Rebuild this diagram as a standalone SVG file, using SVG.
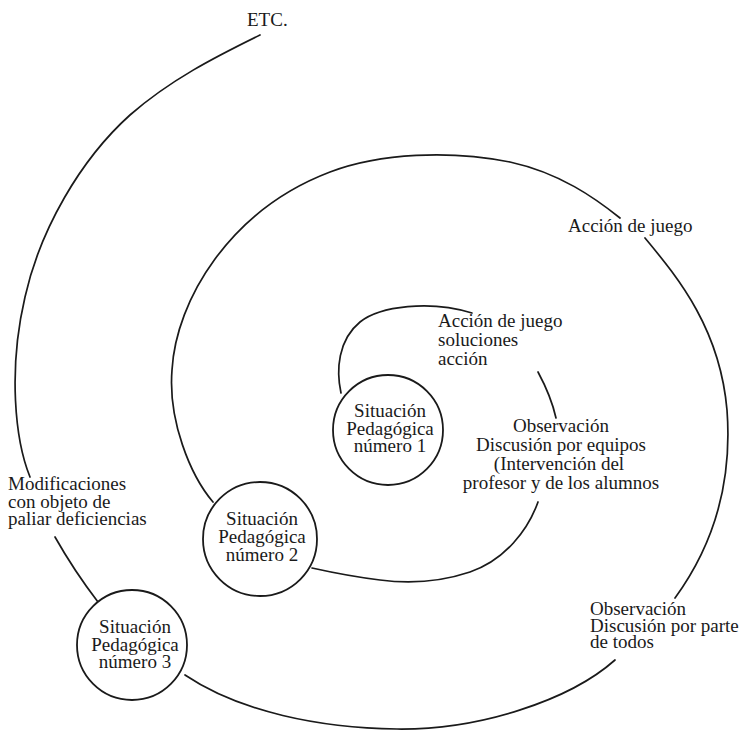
<svg xmlns="http://www.w3.org/2000/svg" width="747" height="731" viewBox="0 0 747 731">
<style>
  .ln{fill:none;stroke:#1a1a1a;stroke-width:1.7;stroke-linecap:round}
  .nd{fill:#fff;stroke:#1a1a1a;stroke-width:1.8}
  text{font-family:"Liberation Serif","Times New Roman",serif;font-size:19px;fill:#1a1a1a}
  .c{text-anchor:middle}
</style>
<rect width="747" height="731" fill="#fff"/>
<g id="connectors">
  <path class="ln" d="M341,393 C336,370 338,340 360,322 C380,306 430,300 472,313"/>
  <path class="ln" d="M538,372 C545,385 552,400 556,418"/>
  <path class="ln" d="M538,502 C528,530 505,560 470,572 C440,582 410,584 380,580 C355,577 330,572 312,568"/>
  <path class="ln" d="M213,502 C190,475 168,420 172,370 C176,300 230,210 330,172 C380,153 450,150 510,162 C560,173 595,198 620,218"/>
  <path class="ln" d="M645,238 C680,280 720,330 727,410 C733,490 710,550 675,598"/>
  <path class="ln" d="M615,660 C570,700 480,730 397,729 C320,728 240,712 185,675"/>
  <path class="ln" d="M98,602 C85,585 68,560 55,537"/>
  <path class="ln" d="M30,477 C15,440 8,370 25,297 C40,230 80,160 130,115 C170,80 215,57 260,35"/>
</g>
<g id="node1">
  <circle class="nd" cx="388" cy="430" r="55"/>
  <text class="c" x="390" y="417">Situación</text>
  <text class="c" x="390" y="435">Pedagógica</text>
  <text class="c" x="390" y="452">número 1</text>
</g>
<g id="node2">
  <circle class="nd" cx="260" cy="539" r="57"/>
  <text class="c" x="262" y="525">Situación</text>
  <text class="c" x="262" y="543">Pedagógica</text>
  <text class="c" x="262" y="561">número 2</text>
</g>
<g id="node3">
  <circle class="nd" cx="132" cy="645" r="55"/>
  <text class="c" x="135" y="633">Situación</text>
  <text class="c" x="135" y="651">Pedagógica</text>
  <text class="c" x="135" y="668">número 3</text>
</g>
<g id="labels">
  <text x="247" y="26">ETC.</text>
  <text x="568" y="232">Acción de juego</text>
  <text x="438" y="327">Acción de juego</text>
  <text x="438" y="346">soluciones</text>
  <text x="438" y="365">acción</text>
  <text class="c" x="561" y="432">Observación</text>
  <text class="c" x="561" y="451">Discusión por equipos</text>
  <text class="c" x="559" y="470">(Intervención del</text>
  <text class="c" x="561" y="489">profesor y de los alumnos</text>
  <text x="8" y="490">Modificaciones</text>
  <text x="8" y="508">con objeto de</text>
  <text x="8" y="525">paliar deficiencias</text>
  <text x="590" y="615">Observación</text>
  <text x="590" y="632">Discusión por parte</text>
  <text x="590" y="648">de todos</text>
</g>
</svg>
